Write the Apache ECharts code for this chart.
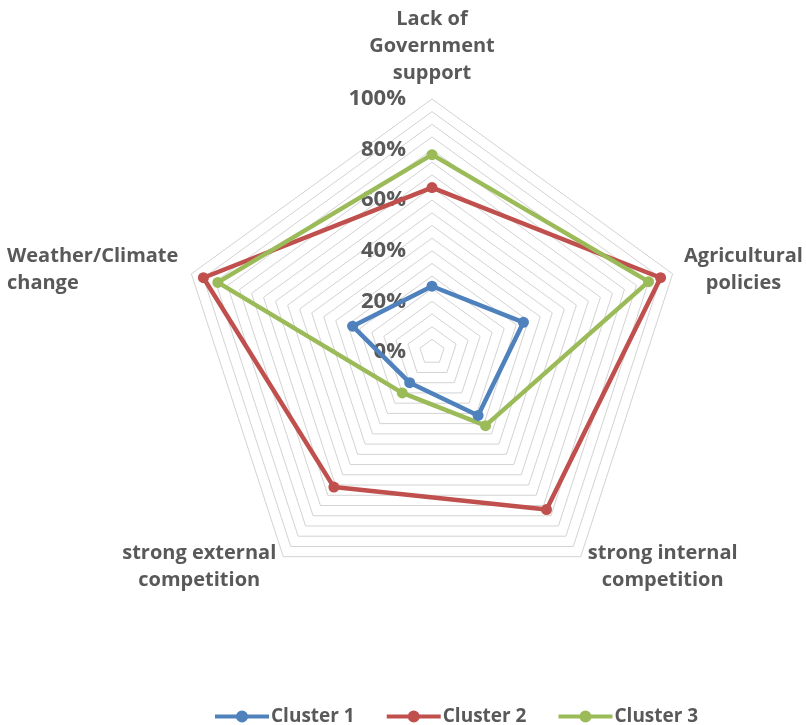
<!DOCTYPE html>
<html>
<head>
<meta charset="utf-8">
<script src="https://cdn.jsdelivr.net/npm/echarts@6/dist/echarts.min.js"></script>
<style>
  html, body { margin: 0; padding: 0; background: #ffffff; }
  #chart { width: 806px; height: 725px; }
</style>
</head>
<body>
<div id="chart"></div>
<script>
// Challenges, listed clockwise from the top
const categories = [
  'Lack of\nGovernment\nsupport',
  'Agricultural\npolicies',
  'strong internal\ncompetition',
  'strong external\ncompetition',
  'Weather/Climate\nchange'
];
const seriesNames = ['Cluster 1', 'Cluster 2', 'Cluster 3'];
const cluster1 = [26, 38, 31, 15, 33];
const cluster2 = [65, 95, 77, 66, 95];
const cluster3 = [78, 90, 36, 20, 89];
const tickLabels = ['0%', '20%', '40%', '60%', '80%', '100%'];
const colors = ['#4f81bd', '#c0504d', '#9bbb59'];

// ECharts lays radar indicators out counter-clockwise; reorder the clockwise list
const order = [0, 4, 3, 2, 1];
const reorder = arr => order.map(i => arr[i]);

const textColor = '#595959';
const fontFamily = '"Open Sans", Lato, sans-serif';
const fontWeight = 'bold';
const nameSize = 20;

// names whose lines are left-aligned inside their block
const leftAligned = ['Weather/Climate\nchange'];

const indicators = reorder(categories).map((name, k) => {
  const ind = { name: name, min: 0, max: 100 };
  if (k === 0) {
    ind.axisLabel = {
      show: true,
      margin: 26,
      color: textColor,
      fontFamily: fontFamily,
      fontWeight: fontWeight,
      fontSize: 22,
      formatter: v => (v % 20 === 0 ? tickLabels[v / 20] : '')
    };
  }
  return ind;
});

const chart = echarts.init(document.getElementById('chart'), null, { renderer: 'canvas' });

chart.setOption({
  backgroundColor: '#ffffff',
  animation: false,
  color: colors,
  legend: {
    data: seriesNames,
    top: 702,
    left: 210,
    itemWidth: 54,
    itemHeight: 12,
    itemGap: 32,
    icon: 'path://M0,4H54V8H0Z M33,6A6,6 0 1,1 21,6A6,6 0 1,1 33,6Z',
    textStyle: {
      color: textColor,
      fontFamily: fontFamily,
      fontWeight: fontWeight,
      fontSize: 19,
      padding: [0, 0, 0, -3]
    }
  },
  radar: {
    center: [432, 352],
    radius: 253,
    startAngle: 90,
    splitNumber: 20,
    shape: 'polygon',
    indicator: indicators,
    nameGap: 12,
    axisName: {
      color: textColor,
      fontFamily: fontFamily,
      fontWeight: fontWeight,
      fontSize: nameSize,
      lineHeight: 27,
      formatter: (name) => {
        const key = leftAligned.indexOf(name) >= 0 ? 'l' : 'c';
        return name.split('\n').map(l => '{' + key + '|' + l + '}').join('\n');
      },
      rich: {
        l: { align: 'left', width: 173, color: textColor, fontFamily: fontFamily, fontWeight: fontWeight, fontSize: nameSize, lineHeight: 27 },
        c: { align: 'center', color: textColor, fontFamily: fontFamily, fontWeight: fontWeight, fontSize: nameSize, lineHeight: 27 }
      }
    },
    axisLine: { show: false },
    axisTick: { show: false },
    axisLabel: { show: false },
    splitArea: { show: false },
    splitLine: { lineStyle: { color: '#d3d3d3', width: 1 } }
  },
  series: [{
    type: 'radar',
    symbol: 'circle',
    symbolSize: 11,
    lineStyle: { width: 4.5 },
    data: [
      { name: seriesNames[0], value: reorder(cluster1), itemStyle: { color: colors[0] }, lineStyle: { color: colors[0] } },
      { name: seriesNames[1], value: reorder(cluster2), itemStyle: { color: colors[1] }, lineStyle: { color: colors[1] } },
      { name: seriesNames[2], value: reorder(cluster3), itemStyle: { color: colors[2] }, lineStyle: { color: colors[2] } }
    ]
  }]
});
</script>
</body>
</html>
